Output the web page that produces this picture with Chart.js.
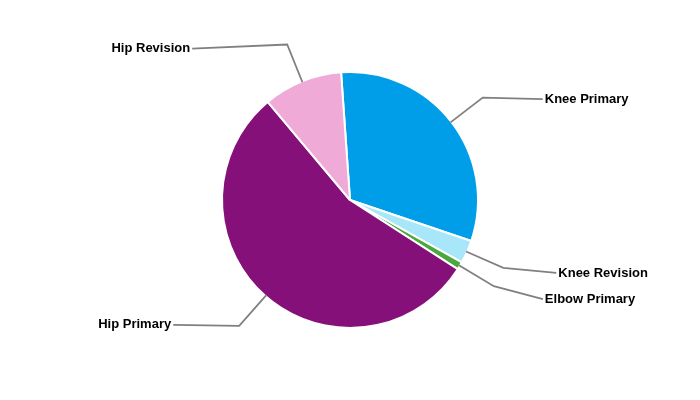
<!DOCTYPE html>
<html>
<head>
<meta charset="utf-8">
<script src="https://cdn.jsdelivr.net/npm/chart.js@4.4.0/dist/chart.umd.min.js"></script>
<style>
html,body{margin:0;padding:0;background:#fff;}
#c{display:block;}
</style>
</head>
<body>
<canvas id="c" width="700" height="400"></canvas>
<script>
const categories = ["Knee Primary", "Knee Revision", "Elbow Primary", "Hip Primary", "Hip Revision"];
const values = [31.3, 2.9, 1.0, 54.8, 10.0];
const colors = ["#009EE8", "#A8E6FA", "#4CA83C", "#86107A", "#F0AAD8"];

// label offsets (px) from the leader elbow point to the label anchor
const labelOffsets = [[60, 1.5], [53, 5], [49, 13], [-66, -1], [-95, 4]];

const leaderPlugin = {
  id: 'leaders',
  afterDatasetsDraw(chart) {
    const ctx = chart.ctx;
    const meta = chart.getDatasetMeta(0);
    ctx.save();
    meta.data.forEach((arc, i) => {
      const p = arc.getProps(['x', 'y', 'startAngle', 'endAngle', 'outerRadius'], true);
      const mid = (p.startAngle + p.endAngle) / 2;
      const r = p.outerRadius;
      const x1 = p.x + Math.cos(mid) * (r - 1);
      const y1 = p.y + Math.sin(mid) * (r - 1);
      const x2 = p.x + Math.cos(mid) * r * 1.31;
      const y2 = p.y + Math.sin(mid) * r * 1.31;
      const off = labelOffsets[i];
      const x3 = x2 + off[0];
      const y3 = y2 + off[1];
      ctx.strokeStyle = '#808080';
      ctx.lineWidth = 1.8;
      ctx.beginPath();
      ctx.moveTo(x1, y1);
      ctx.lineTo(x2, y2);
      ctx.lineTo(x3, y3);
      ctx.stroke();
      ctx.fillStyle = '#000';
      ctx.font = 'bold 13px "Liberation Sans", Arial, sans-serif';
      ctx.textBaseline = 'middle';
      if (off[0] >= 0) {
        ctx.textAlign = 'left';
        ctx.fillText(categories[i], x3 + 2, y3);
      } else {
        ctx.textAlign = 'right';
        ctx.fillText(categories[i], x3 - 2, y3);
      }
    });
    ctx.restore();
  }
};

new Chart(document.getElementById('c'), {
  type: 'pie',
  data: {
    labels: categories,
    datasets: [{
      data: values,
      backgroundColor: colors,
      borderColor: '#ffffff',
      borderWidth: 2
    }]
  },
  options: {
    responsive: false,
    animation: false,
    rotation: -4,
    layout: { padding: { top: 71, bottom: 71, left: 0, right: 0 } },
    plugins: {
      legend: { display: false },
      tooltip: { enabled: false }
    }
  },
  plugins: [leaderPlugin]
});
</script>
</body>
</html>
